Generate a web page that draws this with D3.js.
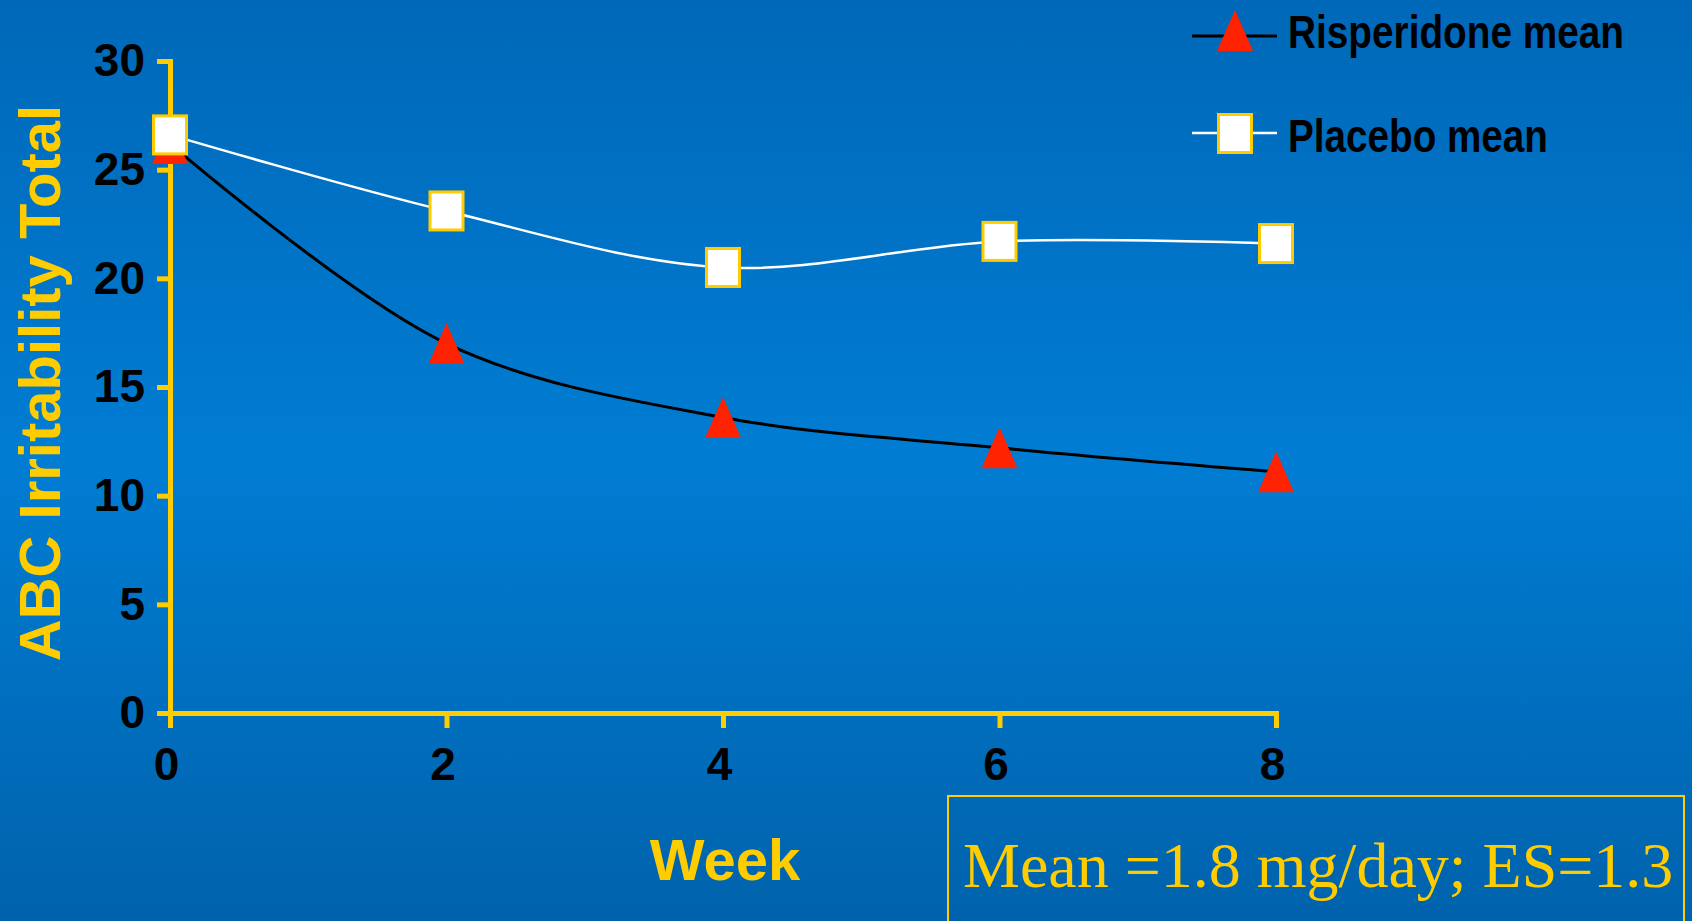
<!DOCTYPE html>
<html>
<head>
<meta charset="utf-8">
<script src="https://cdn.jsdelivr.net/npm/d3@7"></script>
<style>
  html, body { margin: 0; padding: 0; overflow: hidden; }
  svg { display: block; }
</style>
</head>
<body>
<svg id="chart" width="1692" height="921"></svg>
<script>
// ---- data ----
const weeks = [0, 2, 4, 6, 8];
const risperidoneMean = [26.2, 17.0, 13.6, 12.2, 11.1];
const placeboMean = [26.6, 23.1, 20.5, 21.7, 21.6];
const yTicks = [0, 5, 10, 15, 20, 25, 30];
const xTicks = [0, 2, 4, 6, 8];
const seriesNames = ["Risperidone mean", "Placebo mean"];
const yTitle = "ABC Irritability Total";
const xTitle = "Week";
const note = "Mean =1.8 mg/day; ES=1.3";

const YELLOW = "#FFCC00";
const RED = "#FF2200";

const svg = d3.select("#chart");

// background gradient
const defs = svg.append("defs");
const grad = defs.append("linearGradient").attr("id", "bg")
  .attr("x1", 0).attr("y1", 0).attr("x2", 0).attr("y2", 1);
grad.append("stop").attr("offset", "0%").attr("stop-color", "#0068B8");
grad.append("stop").attr("offset", "50%").attr("stop-color", "#007DD3");
grad.append("stop").attr("offset", "100%").attr("stop-color", "#0062AC");
svg.append("rect").attr("width", 1692).attr("height", 921).attr("fill", "url(#bg)");

// scales
const x = d3.scaleLinear().domain([0, 8]).range([170, 1276]);
const y = d3.scaleLinear().domain([0, 30]).range([713, 61]);

// axes
const yAxis = d3.axisLeft(y).tickValues(yTicks).tickSize(13).tickSizeOuter(0).tickPadding(12);
const xAxis = d3.axisBottom(x).tickValues(xTicks).tickSize(15).tickSizeOuter(0).tickPadding(19);

function styleAxis(g) {
  g.select(".domain").attr("stroke", YELLOW).attr("stroke-width", 5).attr("stroke-linecap", "square");
  g.selectAll(".tick line").attr("stroke", YELLOW).attr("stroke-width", 5);
  g.selectAll(".tick text")
    .attr("fill", "#000")
    .style("font-family", "'Liberation Sans', Arial, sans-serif")
    .style("font-weight", "bold")
    .style("font-size", "46px");
}

svg.append("g").attr("transform", `translate(0,${y(0)})`).call(xAxis).call(styleAxis)
  .selectAll(".tick text").attr("dx", -4);
svg.append("g").attr("transform", `translate(${x(0)},0)`).call(yAxis).call(styleAxis);

// axis titles
svg.append("text")
  .attr("transform", `translate(60,383) rotate(-90)`)
  .attr("text-anchor", "middle")
  .attr("fill", YELLOW)
  .style("font-family", "'Liberation Sans', Arial, sans-serif")
  .style("font-weight", "bold")
  .style("font-size", "58px")
  .text(yTitle);

svg.append("text")
  .attr("x", 725).attr("y", 880)
  .attr("text-anchor", "middle")
  .attr("fill", YELLOW)
  .style("font-family", "'Liberation Sans', Arial, sans-serif")
  .style("font-weight", "bold")
  .style("font-size", "58px")
  .text(xTitle);

// lines
const line = d3.line().x(d => x(d[0])).y(d => y(d[1])).curve(d3.curveCatmullRom.alpha(0.5));
const risData = weeks.map((w, i) => [w, risperidoneMean[i]]);
const plaData = weeks.map((w, i) => [w, placeboMean[i]]);

svg.append("path").attr("d", line(plaData)).attr("fill", "none")
  .attr("stroke", "#fff").attr("stroke-width", 2.5);
svg.append("path").attr("d", line(risData)).attr("fill", "none")
  .attr("stroke", "#000").attr("stroke-width", 3);

// markers
const MW = 36, MH = 41;
function triangle(g, cx, cy) {
  g.append("path")
    .attr("d", `M${cx},${cy - MH / 2} L${cx + MW / 2},${cy + MH / 2} L${cx - MW / 2},${cy + MH / 2} Z`)
    .attr("fill", RED);
}
function square(g, cx, cy) {
  g.append("rect")
    .attr("x", cx - MW / 2 + 1.5).attr("y", cy - MH / 2 + 1.5)
    .attr("width", MW - 3).attr("height", MH - 3)
    .attr("fill", "#fff").attr("stroke", YELLOW).attr("stroke-width", 3);
}

const mk = svg.append("g");
risData.forEach(d => triangle(mk, x(d[0]), y(d[1])));
plaData.forEach(d => square(mk, x(d[0]), y(d[1])));

// legend
const lg = svg.append("g");
const legendFont = "'Liberation Sans', Arial, sans-serif";
lg.append("line").attr("x1", 1192).attr("x2", 1277).attr("y1", 36).attr("y2", 36)
  .attr("stroke", "#000").attr("stroke-width", 3);
triangle(lg, 1235, 30.5);
lg.append("text").attr("x", 1288).attr("y", 48)
  .attr("fill", "#000")
  .attr("textLength", 336).attr("lengthAdjust", "spacingAndGlyphs")
  .style("font-family", legendFont).style("font-weight", "bold").style("font-size", "47px")
  .text(seriesNames[0]);

lg.append("line").attr("x1", 1192).attr("x2", 1277).attr("y1", 133).attr("y2", 133)
  .attr("stroke", "#fff").attr("stroke-width", 2.5);
square(lg, 1235, 133.5);
lg.append("text").attr("x", 1288).attr("y", 152)
  .attr("fill", "#000")
  .attr("textLength", 260).attr("lengthAdjust", "spacingAndGlyphs")
  .style("font-family", legendFont).style("font-weight", "bold").style("font-size", "47px")
  .text(seriesNames[1]);

// note box
svg.append("rect").attr("x", 948).attr("y", 796).attr("width", 736).attr("height", 200)
  .attr("fill", "none").attr("stroke", YELLOW).attr("stroke-width", 2);
svg.append("text").attr("x", 963).attr("y", 887)
  .attr("fill", YELLOW)
  .style("font-family", "'Liberation Serif', 'Times New Roman', serif")
  .style("font-size", "64px")
  .text(note);
</script>
</body>
</html>
